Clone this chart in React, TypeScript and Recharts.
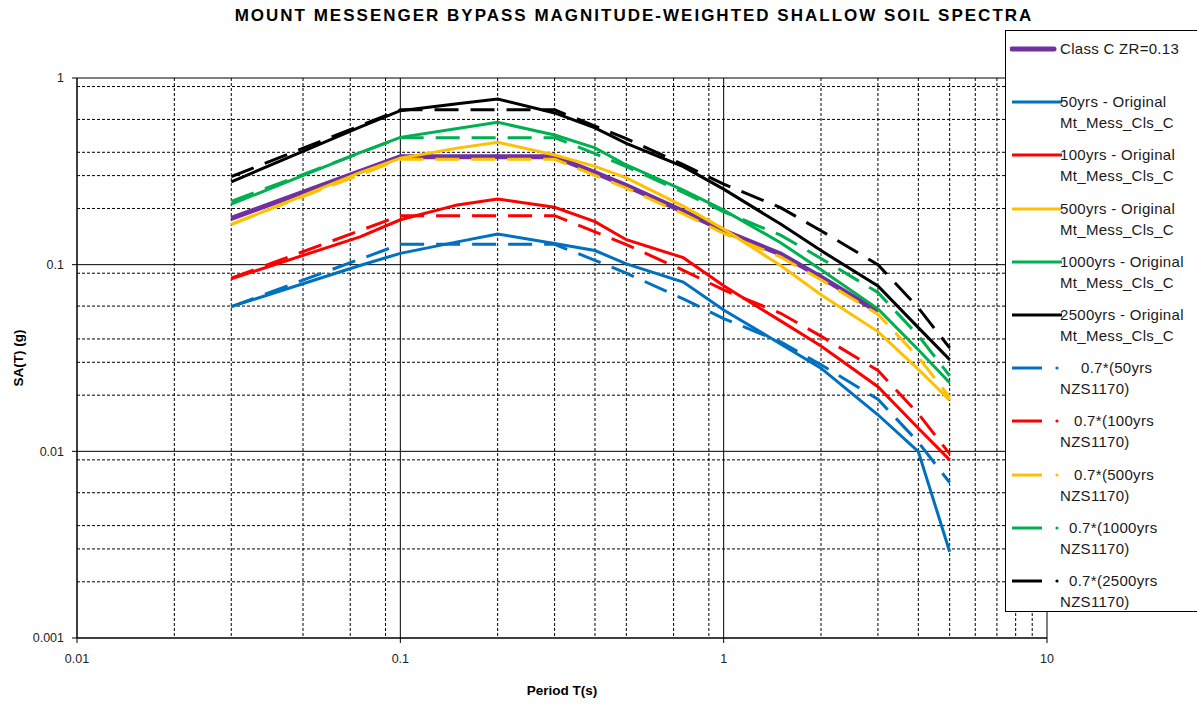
import { CartesianGrid, Label, Line, LineChart, XAxis, YAxis } from 'recharts';

const FONT = '"Liberation Sans", Arial, sans-serif';

// periods (s) used by each family of curves
const PERIODS_NZS = [0.03, 0.1, 0.2, 0.3, 0.4, 0.5, 0.75, 1, 1.5, 2, 3, 4, 5];
const PERIODS_ORIG = [0.03, 0.075, 0.1, 0.15, 0.2, 0.3, 0.4, 0.5, 0.75, 1, 1.5, 2, 3, 4, 5];
const PERIODS_CLASS_C = [0.03, 0.1, 0.2, 0.3, 0.4, 0.5, 0.75, 1, 1.5, 2, 3];

// SA(T) in g
const CLASS_C = [0.177, 0.379, 0.379, 0.379, 0.311, 0.265, 0.193, 0.152, 0.114, 0.0857, 0.0561];

const ORIG_50 = [0.0596, 0.099, 0.115, 0.1325, 0.146, 0.13, 0.119, 0.101, 0.0807, 0.0572, 0.0376, 0.0279, 0.0157, 0.00997, 0.0029];
const ORIG_100 = [0.084, 0.141, 0.174, 0.209, 0.225, 0.203, 0.17, 0.136, 0.109, 0.077, 0.05, 0.0367, 0.0222, 0.0133, 0.009];
const ORIG_500 = [0.164, 0.311, 0.372, 0.421, 0.453, 0.387, 0.336, 0.292, 0.206, 0.155, 0.099, 0.069, 0.0438, 0.0275, 0.0188];
const ORIG_1000 = [0.211, 0.398, 0.481, 0.537, 0.579, 0.495, 0.422, 0.342, 0.251, 0.196, 0.131, 0.094, 0.058, 0.035, 0.0233];
const ORIG_2500 = [0.278, 0.545, 0.668, 0.727, 0.772, 0.65, 0.54, 0.447, 0.335, 0.254, 0.165, 0.119, 0.077, 0.046, 0.031];

const NZS_50 = [0.0596, 0.1286, 0.1286, 0.1286, 0.1055, 0.09, 0.0656, 0.0514, 0.0386, 0.0291, 0.019, 0.0112, 0.0068];
const NZS_100 = [0.0846, 0.183, 0.183, 0.183, 0.15, 0.128, 0.0933, 0.0732, 0.0549, 0.0414, 0.0271, 0.0159, 0.0097];
const NZS_500 = [0.165, 0.367, 0.367, 0.367, 0.301, 0.257, 0.187, 0.147, 0.11, 0.083, 0.0543, 0.0319, 0.0195];
const NZS_1000 = [0.218, 0.479, 0.479, 0.479, 0.393, 0.335, 0.244, 0.192, 0.144, 0.108, 0.0709, 0.0417, 0.0254];
const NZS_2500 = [0.296, 0.675, 0.675, 0.675, 0.553, 0.473, 0.344, 0.27, 0.202, 0.152, 0.0999, 0.0587, 0.0358];

const X_TICKS = [0.01, 0.1, 1, 10];
const Y_TICKS = [0.001, 0.01, 0.1, 1];
const X_TICK_LABELS = ['0.01', '0.1', '1', '10'];
const Y_TICK_LABELS = ['0.001', '0.01', '0.1', '1'];

// minor grid: 2..9 within each decade
const minorX = X_TICKS.slice(0, -1).flatMap((d) => [2, 3, 4, 5, 6, 7, 8, 9].map((m) => +(d * m).toPrecision(3)));
const minorY = Y_TICKS.slice(0, -1).flatMap((d) => [2, 3, 4, 5, 6, 7, 8, 9].map((m) => +(d * m).toPrecision(3)));

const BLUE = '#0070C0';
const RED = '#FF0000';
const YELLOW = '#FFC000';
const GREEN = '#00B050';
const BLACK = '#000000';
const PURPLE = '#7030A0';

const pts = (periods: number[], values: number[]) => periods.map((T, i) => ({ T, v: values[i] }));

type Series = { name: string[]; color: string; data: { T: number; v: number }[]; dashed?: boolean; width?: number; indent?: number };

const series: Series[] = [
  { name: ['Class C ZR=0.13'], color: PURPLE, data: pts(PERIODS_CLASS_C, CLASS_C), width: 5 },
  { name: ['50yrs - Original', 'Mt_Mess_Cls_C'], color: BLUE, data: pts(PERIODS_ORIG, ORIG_50) },
  { name: ['100yrs - Original', 'Mt_Mess_Cls_C'], color: RED, data: pts(PERIODS_ORIG, ORIG_100) },
  { name: ['500yrs - Original', 'Mt_Mess_Cls_C'], color: YELLOW, data: pts(PERIODS_ORIG, ORIG_500) },
  { name: ['1000yrs - Original', 'Mt_Mess_Cls_C'], color: GREEN, data: pts(PERIODS_ORIG, ORIG_1000) },
  { name: ['2500yrs - Original', 'Mt_Mess_Cls_C'], color: BLACK, data: pts(PERIODS_ORIG, ORIG_2500) },
  { name: ['0.7*(50yrs', 'NZS1170)'], color: BLUE, data: pts(PERIODS_NZS, NZS_50), dashed: true, indent: 21 },
  { name: ['0.7*(100yrs', 'NZS1170)'], color: RED, data: pts(PERIODS_NZS, NZS_100), dashed: true, indent: 14 },
  { name: ['0.7*(500yrs', 'NZS1170)'], color: YELLOW, data: pts(PERIODS_NZS, NZS_500), dashed: true, indent: 14 },
  { name: ['0.7*(1000yrs', 'NZS1170)'], color: GREEN, data: pts(PERIODS_NZS, NZS_1000), dashed: true, indent: 9 },
  { name: ['0.7*(2500yrs', 'NZS1170)'], color: BLACK, data: pts(PERIODS_NZS, NZS_2500), dashed: true, indent: 9 },
];

function LegendBox() {
  return (
    <div
      style={{
        position: 'absolute',
        left: 1005,
        top: 30,
        width: 200,
        height: 580,
        background: '#fff',
        border: '1px solid #000',
        fontFamily: FONT,
        fontSize: 15,
        color: '#1a1a1a',
      }}
    >
      {series.map((s, i) => {
        const y = 18 + i * 53.2;
        return (
          <div key={i} style={{ position: 'absolute', left: 0, top: y - 10, width: 200 }}>
            <svg width={56} height={20} style={{ position: 'absolute', left: 4, top: 0 }}>
              {s.dashed ? (
                <>
                  <line x1={2} y1={10} x2={32} y2={10} stroke={s.color} strokeWidth={3} />
                  <circle cx={47} cy={10} r={1.6} fill={s.color} />
                </>
              ) : (
                <line x1={2} y1={10} x2={i === 0 ? 44 : 52} y2={10} stroke={s.color} strokeWidth={s.width ?? 3} strokeLinecap={i === 0 ? 'round' : 'butt'} />
              )}
            </svg>
            {s.name.map((t, j) => (
              <div
                key={j}
                style={{ position: 'absolute', left: 54 + (j === 0 ? s.indent ?? 0 : 0), top: j * 21, lineHeight: '20px', whiteSpace: 'nowrap', letterSpacing: 0.3 }}
              >
                {t}
              </div>
            ))}
          </div>
        );
      })}
    </div>
  );
}

export default function App() {
  return (
    <div style={{ position: 'absolute', left: 0, top: 0, width: 1197, height: 704, background: '#fff', overflow: 'hidden' }}>
      <div
        style={{
          position: 'absolute',
          left: 0,
          top: 6,
          width: 1268,
          textAlign: 'center',
          fontFamily: FONT,
          fontWeight: 'bold',
          fontSize: 17,
          letterSpacing: 2,
          color: '#000',
        }}
      >
        MOUNT MESSENGER BYPASS MAGNITUDE-WEIGHTED SHALLOW SOIL SPECTRA
      </div>
      <LineChart width={1197} height={704} margin={{ top: 78, right: 150, left: 0, bottom: 0 }} style={{ fontFamily: FONT }}>
        <CartesianGrid horizontalValues={minorY} verticalValues={minorX} stroke="#000" strokeDasharray="3 2" strokeWidth={1} />
        <CartesianGrid horizontalValues={Y_TICKS} verticalValues={X_TICKS} stroke="#000" strokeWidth={1} />
        <XAxis
          type="number"
          dataKey="T"
          scale="log"
          domain={[0.01, 10]}
          ticks={X_TICKS}
          tickFormatter={(v: number) => X_TICK_LABELS[X_TICKS.indexOf(v)] ?? String(v)}
          allowDataOverflow
          height={66}
          stroke="#000"
          tickSize={5}
          tickMargin={11}
          tick={{ fill: '#222', fontSize: 12.5 }}
        >
          <Label value="Period T(s)" position="insideBottom" offset={9} style={{ fontWeight: 'bold', fontSize: 13.5, fill: '#000' }} />
        </XAxis>
        <YAxis
          type="number"
          dataKey="v"
          scale="log"
          domain={[0.001, 1]}
          ticks={Y_TICKS}
          tickFormatter={(v: number) => Y_TICK_LABELS[Y_TICKS.indexOf(v)] ?? String(v)}
          allowDataOverflow
          width={77}
          stroke="#000"
          tickSize={5}
          tickMargin={8}
          tick={{ fill: '#222', fontSize: 12.5 }}
        >
          <Label value="SA(T) (g)" angle={-90} position="insideLeft" offset={18} style={{ fontWeight: 'bold', fontSize: 13.5, fill: '#000', textAnchor: 'middle' }} />
        </YAxis>
        {series.map((s, i) => (
          <Line
            key={i}
            data={s.data}
            dataKey="v"
            name={s.name.join(' ')}
            type="linear"
            stroke={s.color}
            strokeWidth={s.width ?? 3}
            strokeDasharray={s.dashed ? '24 12' : undefined}
            dot={false}
            activeDot={false}
            isAnimationActive={false}
          />
        ))}
      </LineChart>
      <LegendBox />
    </div>
  );
}
